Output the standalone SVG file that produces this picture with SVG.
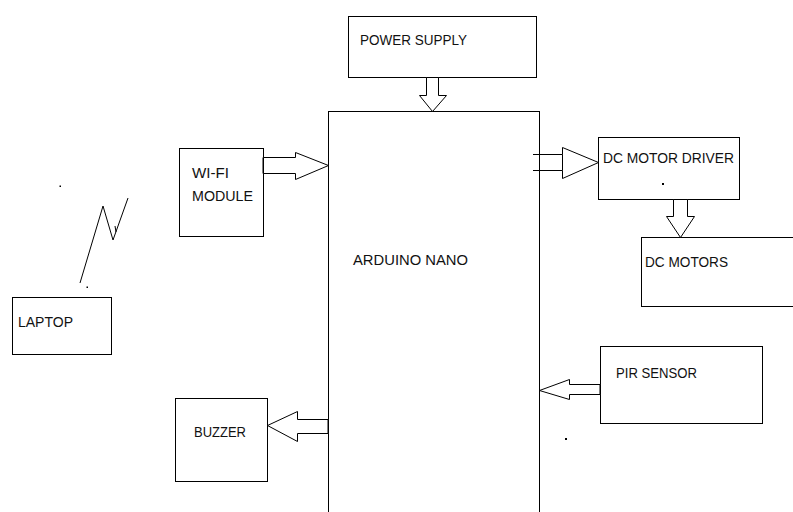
<svg xmlns="http://www.w3.org/2000/svg" width="793" height="512" viewBox="0 0 793 512">
<style>
.box{fill:#fff;stroke:#000;stroke-width:1}
.arr{fill:#fff;stroke:#000;stroke-width:1;stroke-linejoin:miter}
.ln{fill:none;stroke:#000;stroke-width:1}
text{font-family:"Liberation Sans",Arial,sans-serif;font-size:14px;fill:#111}
</style>
<rect width="793" height="512" fill="#fff"/>
<g id="power-supply">
<rect class="box" x="348.5" y="16.5" width="188" height="61"/>
<text x="360" y="45" textLength="107" lengthAdjust="spacingAndGlyphs">POWER SUPPLY</text>
</g>
<g id="arduino-nano">
<rect class="box" x="328.5" y="111.5" width="211" height="410"/>
<text x="353" y="265" textLength="115" lengthAdjust="spacingAndGlyphs">ARDUINO NANO</text>
</g>
<g id="wifi-module">
<rect class="box" x="179.5" y="148.5" width="84" height="88"/>
<text x="192" y="178" textLength="37" lengthAdjust="spacingAndGlyphs">WI-FI</text>
<text x="192" y="201" textLength="61" lengthAdjust="spacingAndGlyphs">MODULE</text>
</g>
<g id="dc-motor-driver">
<rect class="box" x="598.5" y="137.5" width="141" height="62"/>
<text x="603" y="163" textLength="131" lengthAdjust="spacingAndGlyphs">DC MOTOR DRIVER</text>
<rect x="662" y="183" width="2" height="2" fill="#000"/>
</g>
<g id="dc-motors">
<rect class="box" x="641.5" y="237.5" width="160" height="69"/>
<text x="645" y="267" textLength="83" lengthAdjust="spacingAndGlyphs">DC MOTORS</text>
</g>
<g id="pir-sensor">
<rect class="box" x="600.5" y="346.5" width="162" height="77"/>
<text x="616" y="378" textLength="81" lengthAdjust="spacingAndGlyphs">PIR SENSOR</text>
</g>
<g id="buzzer">
<rect class="box" x="175.5" y="398.5" width="92" height="83"/>
<text x="194" y="437" textLength="52" lengthAdjust="spacingAndGlyphs">BUZZER</text>
</g>
<g id="laptop">
<rect class="box" x="12.5" y="297.5" width="99" height="57"/>
<text x="18" y="327" textLength="55" lengthAdjust="spacingAndGlyphs">LAPTOP</text>
</g>
<g id="connectors">
<polygon class="arr" points="426.5,77.5 438.5,77.5 438.5,95.5 446.5,95.5 432.5,111.5 419.5,95.5 426.5,95.5"/>
<polygon class="arr" points="263.5,157.5 295.5,157.5 295.5,152.5 328.5,165.5 295.5,179.5 295.5,173.5 263.5,173.5"/>
<line class="ln" x1="263" y1="157.5" x2="263" y2="173.5" stroke-width="2"/>
<polygon class="arr" points="562.5,154.5 562.5,147.5 598.5,162.5 562.5,178.5 562.5,170.5"/>
<line class="ln" x1="533" y1="154.5" x2="562.5" y2="154.5"/>
<line class="ln" x1="533" y1="170.5" x2="562.5" y2="170.5"/>
<polygon class="arr" points="673.5,199.5 687.5,199.5 687.5,216.5 694.5,216.5 680.5,237.5 666.5,216.5 673.5,216.5"/>
<polygon class="arr" points="600.5,384.5 569.5,384.5 569.5,379.5 539.5,390.5 569.5,399.5 569.5,394.5 600.5,394.5"/>
<line class="ln" x1="600" y1="384.5" x2="600" y2="394.5" stroke-width="2"/>
<polygon class="arr" points="328.5,419.5 297.5,419.5 297.5,411.5 267.5,425.5 297.5,441.5 297.5,433.5 328.5,433.5"/>
<line class="ln" x1="328" y1="419.5" x2="328" y2="433.5" stroke-width="2"/>
<polyline class="ln" points="80,283 103,206 113,240 128,198"/>
<line class="ln" x1="115" y1="226" x2="116" y2="232"/>
</g>
<rect x="59.5" y="185.5" width="1.5" height="1.5" fill="#000"/>
<rect x="86.5" y="286.5" width="1.5" height="1.5" fill="#000"/>
<rect x="565" y="438" width="2" height="2" fill="#000"/>
</svg>
